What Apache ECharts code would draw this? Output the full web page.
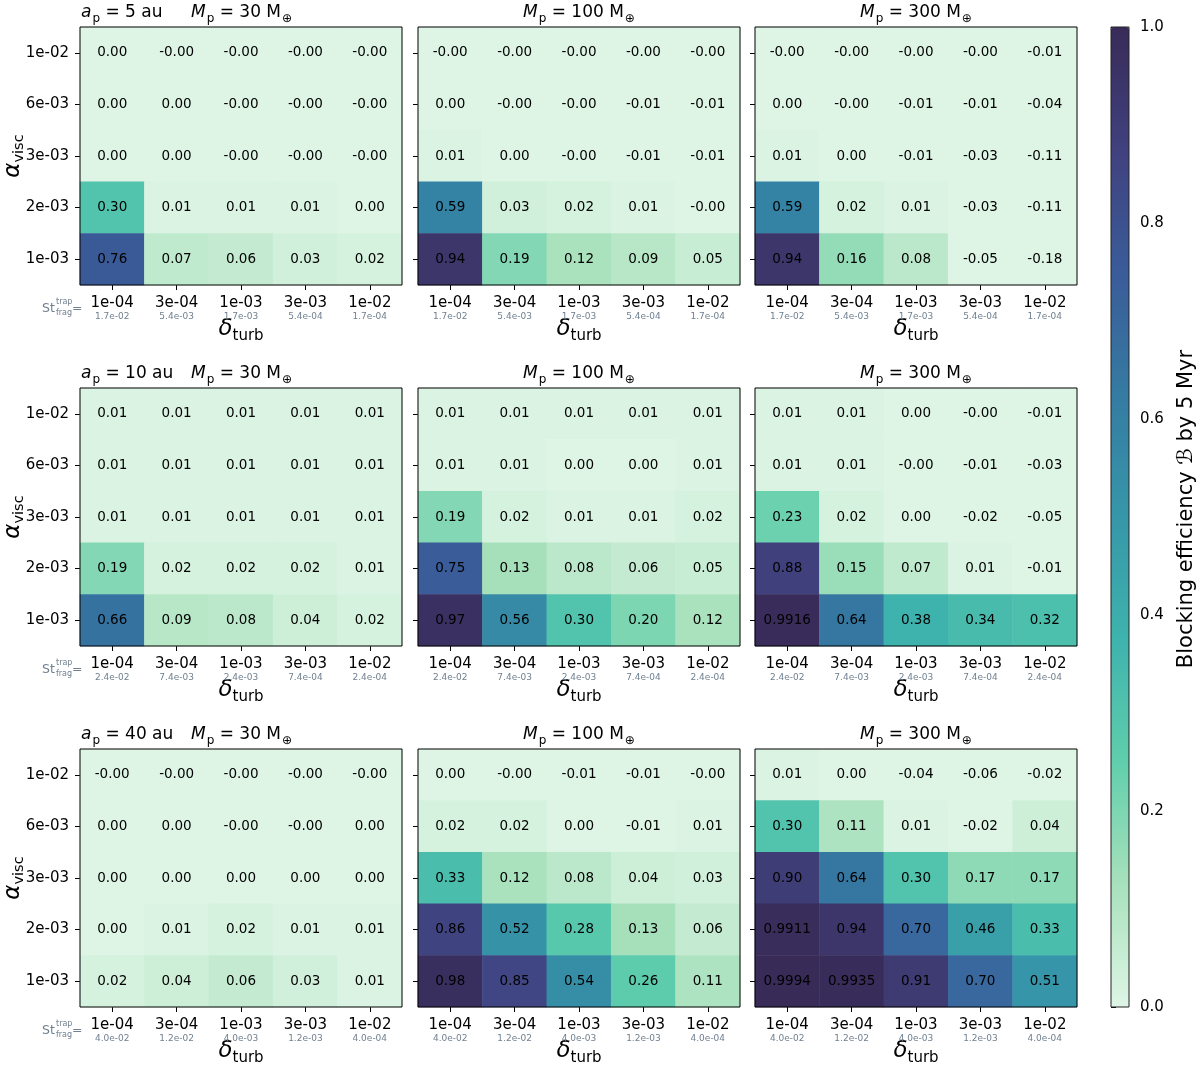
<!DOCTYPE html>
<html>
<head>
<meta charset="utf-8">
<script src="https://cdn.jsdelivr.net/npm/echarts@6/dist/echarts.min.js"></script>
<style>
  html, body { margin: 0; padding: 0; background: #fff; }
  #main { width: 1200px; height: 1065px; }
</style>
</head>
<body>
<div id="main"></div>
<script>
// 坐标轴类别
var deltaTurb = ["1e-04", "3e-04", "1e-03", "3e-03", "1e-02"];
var alphaVisc = ["1e-03", "2e-03", "3e-03", "6e-03", "1e-02"]; // 从下到上
var stFrag5au = ["1.7e-02", "5.4e-03", "1.7e-03", "5.4e-04", "1.7e-04"];
var stFrag10au = ["2.4e-02", "7.4e-03", "2.4e-03", "7.4e-04", "2.4e-04"];
var stFrag40au = ["4.0e-02", "1.2e-02", "4.0e-03", "1.2e-03", "4.0e-04"];
var orbitAu = [5, 10, 40];
var planetMass = [30, 100, 300];
var cbTicks = [0, 0.2, 0.4, 0.6, 0.8, 1.0];

// 阻挡效率: 每行从 alpha = 1e-02 (上) 到 1e-03 (下)
// -0.001 代表图里的 "-0.00"
var eff5au30 = [
  [0.00, -0.001, -0.001, -0.001, -0.001],
  [0.00, 0.00, -0.001, -0.001, -0.001],
  [0.00, 0.00, -0.001, -0.001, -0.001],
  [0.30, 0.01, 0.01, 0.01, 0.00],
  [0.76, 0.07, 0.06, 0.03, 0.02]
];
var eff5au100 = [
  [-0.001, -0.001, -0.001, -0.001, -0.001],
  [0.00, -0.001, -0.001, -0.01, -0.01],
  [0.01, 0.00, -0.001, -0.01, -0.01],
  [0.59, 0.03, 0.02, 0.01, -0.001],
  [0.94, 0.19, 0.12, 0.09, 0.05]
];
var eff5au300 = [
  [-0.001, -0.001, -0.001, -0.001, -0.01],
  [0.00, -0.001, -0.01, -0.01, -0.04],
  [0.01, 0.00, -0.01, -0.03, -0.11],
  [0.59, 0.02, 0.01, -0.03, -0.11],
  [0.94, 0.16, 0.08, -0.05, -0.18]
];
var eff10au30 = [
  [0.01, 0.01, 0.01, 0.01, 0.01],
  [0.01, 0.01, 0.01, 0.01, 0.01],
  [0.01, 0.01, 0.01, 0.01, 0.01],
  [0.19, 0.02, 0.02, 0.02, 0.01],
  [0.66, 0.09, 0.08, 0.04, 0.02]
];
var eff10au100 = [
  [0.01, 0.01, 0.01, 0.01, 0.01],
  [0.01, 0.01, 0.00, 0.00, 0.01],
  [0.19, 0.02, 0.01, 0.01, 0.02],
  [0.75, 0.13, 0.08, 0.06, 0.05],
  [0.97, 0.56, 0.30, 0.20, 0.12]
];
var eff10au300 = [
  [0.01, 0.01, 0.00, -0.001, -0.01],
  [0.01, 0.01, -0.001, -0.01, -0.03],
  [0.23, 0.02, 0.00, -0.02, -0.05],
  [0.88, 0.15, 0.07, 0.01, -0.01],
  [0.9916, 0.64, 0.38, 0.34, 0.32]
];
var eff40au30 = [
  [-0.001, -0.001, -0.001, -0.001, -0.001],
  [0.00, 0.00, -0.001, -0.001, 0.00],
  [0.00, 0.00, 0.00, 0.00, 0.00],
  [0.00, 0.01, 0.02, 0.01, 0.01],
  [0.02, 0.04, 0.06, 0.03, 0.01]
];
var eff40au100 = [
  [0.00, -0.001, -0.01, -0.01, -0.001],
  [0.02, 0.02, 0.00, -0.01, 0.01],
  [0.33, 0.12, 0.08, 0.04, 0.03],
  [0.86, 0.52, 0.28, 0.13, 0.06],
  [0.98, 0.85, 0.54, 0.26, 0.11]
];
var eff40au300 = [
  [0.01, 0.00, -0.04, -0.06, -0.02],
  [0.30, 0.11, 0.01, -0.02, 0.04],
  [0.90, 0.64, 0.30, 0.17, 0.17],
  [0.9911, 0.94, 0.70, 0.46, 0.33],
  [0.9994, 0.9935, 0.91, 0.70, 0.51]
];

var panels = [
  [eff5au30, eff5au100, eff5au300],
  [eff10au30, eff10au100, eff10au300],
  [eff40au30, eff40au100, eff40au300]
];
var stRows = [stFrag5au, stFrag10au, stFrag40au];

// mako_r (截断), 0 -> 1
var makoColors = ["#def5e5", "#a8e1bc", "#60ceac", "#3eb3ad", "#3697a8", "#357ba2", "#3a5c99", "#40417e", "#382b58"];

var FONT = "DejaVu Sans";
var colLeft = [80, 418, 755];
var rowTop = [27, 388, 749];
var PW = 322, PH = 258;

var myChart = echarts.init(document.getElementById("main"));

var grids = [], xAxes = [], yAxes = [], series = [], titles = [], graphics = [];

var mathRich = {
  i: { fontFamily: FONT, fontStyle: "italic", fontWeight: "normal", fontSize: 17, color: "#000", verticalAlign: "bottom", padding: [0, 0, 4, 0] },
  n: { fontFamily: FONT, fontWeight: "normal", fontSize: 17, color: "#000", verticalAlign: "bottom", padding: [0, 0, 4, 0] },
  s: { fontFamily: FONT, fontWeight: "normal", fontSize: 12, color: "#000", verticalAlign: "bottom", padding: [0, 0, 0, 1] }
};

function buildPanel(r, c) {
  var idx = r * 3 + c;
  var vals = panels[r][c];
  var st = stRows[r];
  var L = colLeft[c], T = rowTop[r];

  grids.push({
    left: L, top: T, width: PW, height: PH,
    show: true, borderColor: "#000", borderWidth: 1,
    backgroundColor: "transparent", z: 10, outerBoundsMode: "none"
  });

  xAxes.push({
    gridIndex: idx,
    type: "category",
    data: deltaTurb,
    axisLine: { show: false },
    axisTick: { show: true, alignWithLabel: true, length: 5, lineStyle: { color: "#000" } },
    axisLabel: {
      interval: 0,
      margin: 10,
      formatter: function(v, i) {
        return "{a|" + v + "}\n{b|" + st[i] + "}";
      },
      rich: {
        a: { fontFamily: FONT, fontSize: 15, color: "#000", lineHeight: 17 },
        b: { fontFamily: FONT, fontSize: 9, color: "#708090", lineHeight: 9 }
      }
    },
    splitLine: { show: false },
    name: "{d|δ}{t|turb}",
    nameLocation: "middle",
    nameGap: 33,
    nameMoveOverlap: false,
    nameTextStyle: {
      rich: {
        d: { fontFamily: FONT, fontStyle: "italic", fontSize: 23, color: "#000", verticalAlign: "bottom", padding: [0, 0, 3, 0] },
        t: { fontFamily: FONT, fontSize: 15, color: "#000", verticalAlign: "bottom" }
      }
    }
  });

  yAxes.push({
    gridIndex: idx,
    type: "category",
    data: alphaVisc,
    axisLine: { show: false },
    axisTick: { show: true, alignWithLabel: true, length: 5, lineStyle: { color: "#000" } },
    axisLabel: { show: c === 0, margin: 11, fontFamily: FONT, fontSize: 15, color: "#000" },
    splitLine: { show: false },
    name: c === 0 ? "{a|α}{v|visc}" : "",
    nameLocation: "middle",
    nameRotate: 90,
    nameGap: 53,
    nameMoveOverlap: false,
    nameTextStyle: {
      rich: {
        a: { fontFamily: FONT, fontStyle: "italic", fontSize: 23, color: "#000", verticalAlign: "bottom", padding: [0, 0, 2, 0] },
        v: { fontFamily: FONT, fontSize: 14.5, color: "#000", verticalAlign: "bottom" }
      }
    }
  });

  var data = [];
  for (var row = 0; row < vals.length; row++) {
    for (var col = 0; col < vals[row].length; col++) {
      data.push([col, vals.length - 1 - row, vals[row][col]]);
    }
  }
  series.push({
    type: "heatmap",
    xAxisIndex: idx,
    yAxisIndex: idx,
    data: data,
    label: {
      show: true,
      fontFamily: FONT,
      fontSize: 13.5,
      color: "#000",
      formatter: function(p) {
        var v = p.value[2];
        return v > 0.99 ? v.toFixed(4) : v.toFixed(2);
      }
    },
    emphasis: { disabled: true },
    progressive: 0,
    animation: false
  });

  // 标题
  var massText = "{i|M}{s|p}{n| = " + planetMass[c] + " M}{s|⊕}";
  if (c === 0) {
    titles.push({ text: "{i|a}{s|p}{n| = " + orbitAu[r] + " au}", left: L + 1, top: T - 23, padding: 0, textStyle: { rich: mathRich } });
    titles.push({ text: massText, left: L + 111, top: T - 23, padding: 0, textStyle: { rich: mathRich } });
  } else {
    titles.push({ text: massText, left: L + PW / 2 - 56, top: T - 23, padding: 0, textStyle: { rich: mathRich } });
  }

  // St_frag^trap =
  if (c === 0) {
    var y0 = T + PH + 25;
    var gs = { fontFamily: FONT, fill: "#708090" };
    graphics.push({ type: "text", left: 42, top: y0 - 8, style: Object.assign({ text: "St", fontSize: 12.5 }, gs) });
    graphics.push({ type: "text", left: 56, top: y0 - 12, style: Object.assign({ text: "trap", fontSize: 8 }, gs) });
    graphics.push({ type: "text", left: 56, top: y0 - 1, style: Object.assign({ text: "frag", fontSize: 8 }, gs) });
    graphics.push({ type: "text", left: 72, top: y0 - 8, style: Object.assign({ text: "=", fontSize: 12.5 }, gs) });
  }
}

for (var r = 0; r < 3; r++) {
  for (var c = 0; c < 3; c++) {
    buildPanel(r, c);
  }
}

// 色条坐标轴
grids.push({
  left: 1111, top: 27, width: 18, height: 980,
  show: true, borderColor: "#222", borderWidth: 1,
  backgroundColor: "transparent", z: 10, outerBoundsMode: "none"
});
xAxes.push({ gridIndex: 9, type: "value", show: false, min: 0, max: 1 });
yAxes.push({
  gridIndex: 9,
  type: "value",
  position: "right",
  min: cbTicks[0],
  max: cbTicks[cbTicks.length - 1],
  interval: 0.2,
  axisLine: { show: false },
  axisTick: { show: true, length: 5, lineStyle: { color: "#000" } },
  axisLabel: {
    margin: 11, fontFamily: FONT, fontSize: 15, color: "#000",
    formatter: function(v) { return v.toFixed(1); }
  },
  splitLine: { show: false },
  name: "Blocking efficiency {b|ℬ} by 5 Myr",
  nameLocation: "middle",
  nameRotate: 90,
  nameGap: 47,
  nameMoveOverlap: false,
  nameTextStyle: {
    fontFamily: FONT, fontSize: 21, color: "#000",
    padding: [0, 0, 0, 16],
    rich: { b: { fontFamily: FONT, fontStyle: "italic", fontSize: 21, color: "#000" } }
  }
});

var option = {
  backgroundColor: "#fff",
  animation: false,
  title: titles,
  grid: grids,
  xAxis: xAxes,
  yAxis: yAxes,
  visualMap: {
    type: "continuous",
    min: 0,
    max: 1,
    calculable: false,
    seriesIndex: [0, 1, 2, 3, 4, 5, 6, 7, 8],
    dimension: 2,
    orient: "vertical",
    left: 1106,
    top: 22,
    padding: 5,
    itemWidth: 18,
    itemHeight: 980,
    text: null,
    showLabel: false,
    hoverLink: false,
    inRange: { color: makoColors },
    outOfRange: { color: ["#def5e5"] }
  },
  graphic: graphics,
  series: series
};

myChart.setOption(option);
window.addEventListener("resize", function() {
  myChart.resize();
});
</script>
</body>
</html>
